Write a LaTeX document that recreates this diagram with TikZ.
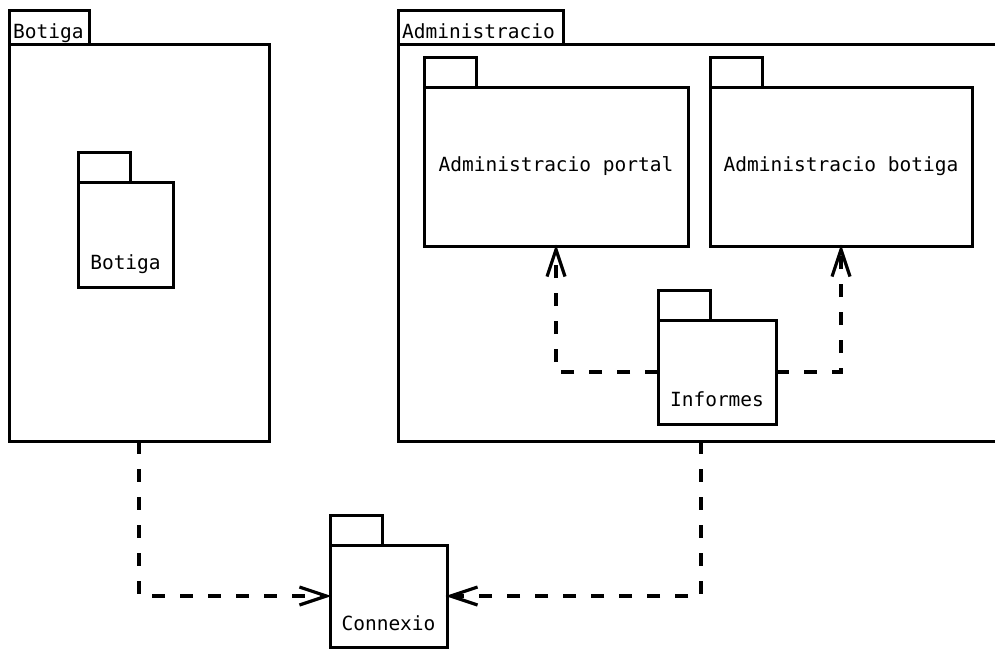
\documentclass[tikz,border=0pt]{standalone}
\usepackage{fontspec}
\newfontfamily\umlfont{DejaVu Sans Mono}
\usetikzlibrary{arrows.meta}
\begin{document}
\begin{tikzpicture}[x=1pt,y=-1pt,
  box/.style={draw, line width=3pt, rectangle, inner sep=0pt, outer sep=0pt, anchor=north west, font=\umlfont\fontsize{19.5}{22}\selectfont},
  tab/.style={draw, line width=3pt, rectangle, inner sep=0pt, outer sep=0pt, anchor=south west, minimum width=52pt, minimum height=30pt},
  lbl/.style={inner sep=0pt, font=\umlfont\fontsize{19.5}{22}\selectfont},
  dep/.style={line width=3.2pt, dash pattern=on 13pt off 15pt, shorten >=-1.5pt, -{Straight Barb[length=27pt,width=18pt]}}
]
\useasboundingbox (0,0) rectangle (995,648);
% outer packages
\node[box, minimum width=260pt, minimum height=397pt] (bo) at (9,44) {};
\node[tab, minimum width=80pt, minimum height=34pt] (bot) at (9,44) {};
\node[lbl, anchor=base west] (botl) at (13,38) {Botiga};
\node[box, minimum width=606pt, minimum height=397pt] (ad) at (398,44) {};
\node[tab, minimum width=165pt, minimum height=34pt] (adt) at (398,44) {};
\node[lbl, anchor=base west] (adl) at (402,38) {Administracio};
% inner packages
\node[box, minimum width=264pt, minimum height=159pt] (ap) at (424,87) {Administracio portal};
\node[tab] (apt) at (424,87) {};
\node[box, minimum width=262pt, minimum height=159pt] (ab) at (710,87) {Administracio botiga};
\node[tab] (abt) at (710,87) {};
\node[box, minimum width=95pt, minimum height=105pt] (bi) at (78,182) {};
\node[tab] (bit) at (78,182) {};
\node[lbl, anchor=base] (bil) at ([yshift=18pt]bi.south) {Botiga};
\node[box, minimum width=118pt, minimum height=104pt] (inf) at (658,320) {};
\node[tab] (inft) at (658,320) {};
\node[lbl, anchor=base] (infl) at ([yshift=18pt]inf.south) {Informes};
\node[box, minimum width=117pt, minimum height=102pt] (cn) at (330,545) {};
\node[tab] (cnt) at (330,545) {};
\node[lbl, anchor=base] (cnl) at ([yshift=17pt]cn.south) {Connexio};
% dependencies
\draw[dep] (bo.south) |- (cn.west);
\draw[dep] (ad.south) |- (cn.east);
\draw[dep] (inf.west) -| (ap.south);
\draw[dep] (inf.east) -| (ab.south);
\end{tikzpicture}
\end{document}
